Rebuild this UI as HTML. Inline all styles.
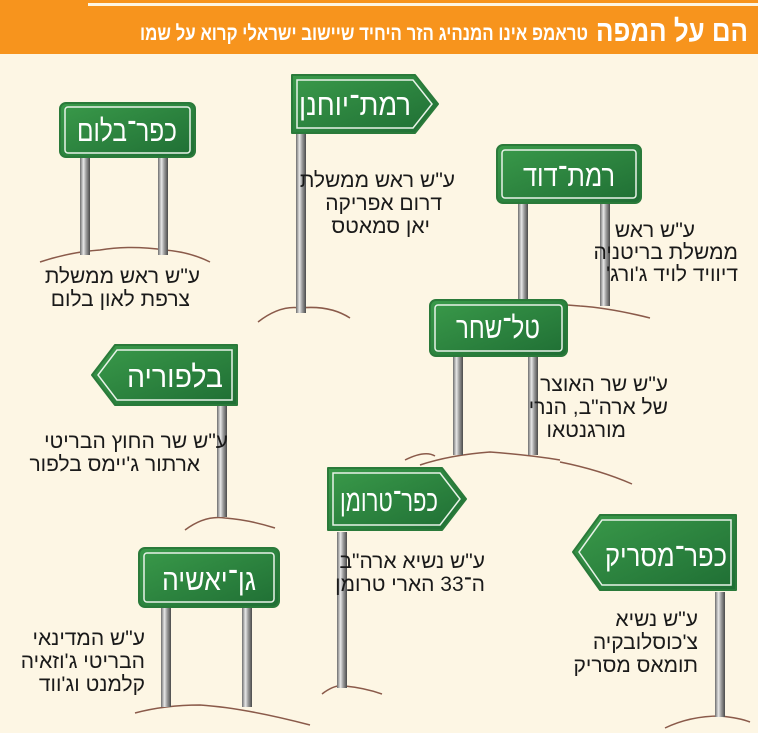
<!DOCTYPE html>
<html><head><meta charset="utf-8"><style>
html,body{margin:0;padding:0;background:#fdf6e4;}
svg{display:block}
text{font-family:"Liberation Sans Narrow","Liberation Sans","Noto Sans CJK SC",sans-serif;}
</style></head><body>
<svg width="758" height="733" viewBox="0 0 758 733" xmlns="http://www.w3.org/2000/svg">
<defs>
<linearGradient id="pg" x1="0" x2="1" y1="0" y2="0">
<stop offset="0" stop-color="#6d6d6d"/><stop offset="0.35" stop-color="#e8e8e8"/><stop offset="0.6" stop-color="#a0a0a0"/><stop offset="1" stop-color="#4a4a4a"/>
</linearGradient>
<linearGradient id="gg" x1="0" x2="1" y1="0" y2="1">
<stop offset="0" stop-color="#3a9a4a"/><stop offset="1" stop-color="#1f6e34"/>
</linearGradient>
</defs>
<rect width="758" height="733" fill="#fdf6e4"/>
<rect x="0" y="0" width="758" height="3" fill="#f7941d"/>
<rect x="0" y="0" width="88" height="8" fill="#f7941d"/>
<rect x="0" y="6" width="758" height="48" fill="#f7941d"/>
<text x="748" y="41" text-anchor="start" direction="rtl" font-size="30" font-weight="bold" fill="#fff" textLength="152" lengthAdjust="spacingAndGlyphs">הם על המפה</text>
<text x="588" y="40" text-anchor="start" direction="rtl" font-size="21" font-weight="bold" fill="#fff" textLength="448" lengthAdjust="spacingAndGlyphs">טראמפ אינו המנהיג הזר היחיד שיישוב ישראלי קרוא על שמו</text>

<g fill="none" stroke="#8a5a4a" stroke-width="1.5">
<path d="M40 262 Q70 252 100 250 Q130 245 165 250 Q190 252 210 262"/>
<path d="M258 322 Q280 305 300 308 Q330 305 350 318"/>
<path d="M510 312 Q540 302 580 306 Q610 308 650 318"/>
<path d="M420 465 Q450 455 490 452 Q530 455 560 460"/>
<path d="M185 530 Q205 515 225 518 Q250 520 275 528"/>
<path d="M322 694 Q335 684 345 686 Q365 688 382 694"/>
<path d="M135 713 Q165 705 200 705 Q245 708 310 725"/>
<path d="M665 728 Q690 716 720 716 Q740 718 750 722"/>
<path d="M405 460 Q425 450 435 456"/>
<path d="M560 462 Q600 470 632 484"/>
</g>

<g fill="url(#pg)">
<rect x="80" y="157" width="10" height="98"/><rect x="158" y="157" width="10" height="98"/>
<rect x="296" y="133" width="10" height="180"/>
<rect x="518" y="203" width="10" height="105"/><rect x="600" y="203" width="10" height="103"/>
<rect x="453" y="355" width="10" height="100"/><rect x="528" y="355" width="10" height="100"/>
<rect x="217" y="405" width="10" height="112"/>
<rect x="337" y="532" width="10" height="156"/>
<rect x="715" y="592" width="10" height="125"/>
<rect x="161" y="607" width="10" height="100"/><rect x="242" y="607" width="10" height="100"/>
</g>

<g stroke="#2a7a3a" stroke-width="2">
<rect x="60" y="103" width="135" height="54" rx="6" fill="url(#gg)"/>
<path d="M292 75 H415 L438 104 L415 133 H292 Z" fill="url(#gg)" stroke-linejoin="round"/>
<rect x="497" y="145" width="144" height="58" rx="6" fill="url(#gg)"/>
<rect x="430" y="300" width="137" height="56" rx="6" fill="url(#gg)"/>
<path d="M115 345 H237 V405 H115 L92 375 Z" fill="url(#gg)" stroke-linejoin="round"/>
<path d="M328 468 H442 L466 499 L442 530 H328 Z" fill="url(#gg)" stroke-linejoin="round"/>
<path d="M600 515 H736 V590 H600 L573 552 Z" fill="url(#gg)" stroke-linejoin="round"/>
<rect x="139" y="548" width="140" height="59" rx="6" fill="url(#gg)"/>
</g>
<g fill="none" stroke="#e8f2e8" stroke-width="1.5">
<rect x="65" y="107" width="125" height="46" rx="3"/>
<path d="M297 80 H413 L432 104 L413 128 H297 Z"/>
<rect x="502" y="150" width="134" height="48" rx="3"/>
<rect x="435" y="305" width="127" height="46" rx="3"/>
<path d="M117 350 H232 V400 H117 L98 375 Z"/>
<path d="M333 473 H440 L460 499 L440 525 H333 Z"/>
<path d="M602 520 H731 V585 H602 L579 552 Z"/>
<rect x="144" y="553" width="130" height="49" rx="3"/>
</g>

<g fill="#fff" font-size="30" text-anchor="middle" direction="rtl">
<text x="127" y="141" textLength="100" lengthAdjust="spacingAndGlyphs">כפר־בלום</text>
<text x="355" y="115" textLength="112" lengthAdjust="spacingAndGlyphs">רמת־יוחנן</text>
<text x="569" y="186" textLength="92" lengthAdjust="spacingAndGlyphs">רמת־דוד</text>
<text x="498" y="338" textLength="84" lengthAdjust="spacingAndGlyphs">טל־שחר</text>
<text x="175" y="387" textLength="96" lengthAdjust="spacingAndGlyphs">בלפוריה</text>
<text x="389" y="511" textLength="98" lengthAdjust="spacingAndGlyphs">כפר־טרומן</text>
<text x="666" y="566" textLength="122" lengthAdjust="spacingAndGlyphs">כפר־מסריק</text>
<text x="209" y="590" textLength="94" lengthAdjust="spacingAndGlyphs">גן־יאשיה</text>
</g>

<g fill="#1a1a1a" font-size="21" text-anchor="start" direction="rtl">
<text x="200" y="283">ע"ש ראש ממשלת</text>
<text x="190" y="306">צרפת לאון בלום</text>
<text x="455" y="187">ע"ש ראש ממשלת</text>
<text x="442" y="210">דרום אפריקה</text>
<text x="430" y="233">יאן סמאטס</text>
<text x="695" y="237">ע"ש ראש</text>
<text x="738" y="259">ממשלת בריטניה</text>
<text x="738" y="281">דיוויד לויד ג'ורג'</text>
<text x="668" y="391">ע"ש שר האוצר</text>
<text x="668" y="414">של ארה"ב, הנרי</text>
<text x="626" y="437">מורגנטאו</text>
<text x="228" y="448">ע"ש שר החוץ הבריטי</text>
<text x="200" y="471">ארתור ג'יימס בלפור</text>
<text x="485" y="568">ע"ש נשיא ארה"ב</text>
<text x="485" y="591">ה־33 הארי טרומן</text>
<text x="698" y="626">ע"ש נשיא</text>
<text x="698" y="649">צ'כוסלובקיה</text>
<text x="698" y="672">תומאס מסריק</text>
<text x="145" y="645">ע"ש המדינאי</text>
<text x="145" y="668">הבריטי ג'וזאיה</text>
<text x="145" y="691">קלמנט וג'ווד</text>
</g>
</svg>
</body></html>
